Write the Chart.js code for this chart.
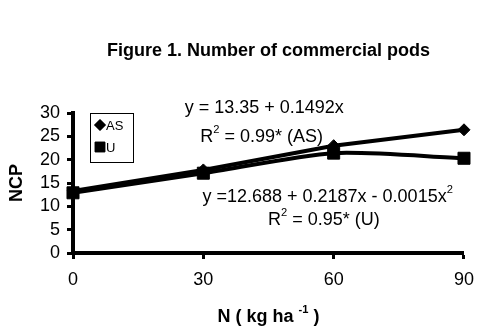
<!DOCTYPE html>
<html>
<head>
<meta charset="utf-8">
<script src="https://cdn.jsdelivr.net/npm/chart.js@4/dist/chart.umd.min.js"></script>
<style>
  html, body { margin: 0; padding: 0; background: #fff; }
  #wrap { width: 484px; height: 326px; }
</style>
</head>
<body>
<div id="wrap"><canvas id="c"></canvas></div>
<script>
// values
const nRates = [0, 30, 60, 90];
const ncpAS = [13.3, 17.8, 23.0, 26.4];
const ncpU = [12.9, 17.1, 21.4, 20.3];
const seriesNames = ['AS', 'U'];
const chartTitle = 'Figure 1. Number of commercial pods';
const yTitle = 'NCP';

// text with superscripts: [text, isSuper]
const eqAS = [['y = 13.35 + 0.1492x', 0]];
const r2AS = [['R', 0], ['2', 1], [' = 0.99* (AS)', 0]];
const eqU = [['y =12.688 + 0.2187x - 0.0015x', 0], ['2', 1]];
const r2U = [['R', 0], ['2', 1], [' = 0.95* (U)', 0]];
const xTitle = [['N ( kg ha ', 0], ['-1', 1], [' )', 0]];

const FONT = "'Liberation Sans', Arial, sans-serif";

function drawRich(ctx, parts, x, y, size, bold, align) {
  const w = parts.reduce((s, [t, sup]) => {
    ctx.font = (bold ? 'bold ' : '') + (sup ? size * 0.62 : size) + 'px ' + FONT;
    return s + ctx.measureText(t).width;
  }, 0);
  let cx = align === 'center' ? x - w / 2 : x;
  ctx.textBaseline = 'middle';
  ctx.textAlign = 'left';
  parts.forEach(([t, sup]) => {
    ctx.font = (bold ? 'bold ' : '') + (sup ? size * 0.62 : size) + 'px ' + FONT;
    ctx.fillText(t, cx, sup ? y - size * 0.38 : y);
    cx += ctx.measureText(t).width;
  });
}

const notes = {
  id: 'notes',
  afterDatasetsDraw(chart) {
    const { ctx, scales: { x, y } } = chart;
    ctx.save();
    ctx.fillStyle = '#000';
    drawRich(ctx, eqAS, x.getPixelForValue(25.7), y.getPixelForValue(31.1), 18, false);
    drawRich(ctx, r2AS, x.getPixelForValue(29.3), y.getPixelForValue(24.9), 18, false);
    drawRich(ctx, eqU, x.getPixelForValue(29.8), y.getPixelForValue(12.0), 18, false);
    drawRich(ctx, r2U, x.getPixelForValue(44.9), y.getPixelForValue(7.1), 18, false);
    drawRich(ctx, xTitle, (chart.chartArea.left + chart.chartArea.right) / 2, 317, 18, true, 'center');

    // legend box
    ctx.lineWidth = 1;
    ctx.strokeStyle = '#000';
    ctx.strokeRect(90.5, 113.5, 43, 49);
    ctx.font = '13px ' + FONT;
    ctx.textBaseline = 'middle';
    chart.data.datasets.forEach((ds, i) => {
      const ly = 125 + i * 22;
      Chart.helpers.drawPoint(ctx, {
        pointStyle: ds.pointStyle, radius: i === 0 ? 5.5 : 7, rotation: 0, borderWidth: 1
      }, 100, ly);
      ctx.fillStyle = '#000';
      ctx.fill();
      ctx.fillText(seriesNames[i], 106, ly + 1);
    });
    ctx.restore();
  }
};

const tickFont = { family: FONT, size: 18 };

new Chart(document.getElementById('c'), {
  type: 'line',
  data: {
    labels: nRates,
    datasets: [
      {
        label: seriesNames[0],
        data: nRates.map((n, i) => ({ x: n, y: ncpAS[i] })),
        borderColor: '#000', backgroundColor: '#000', borderWidth: 4,
        pointStyle: 'rectRot', pointRadius: 6, pointBorderWidth: 1,
        tension: 0, clip: false
      },
      {
        label: seriesNames[1],
        data: nRates.map((n, i) => ({ x: n, y: ncpU[i] })),
        borderColor: '#000', backgroundColor: '#000', borderWidth: 4,
        pointStyle: 'rect', pointRadius: 8.5, pointBorderWidth: 1,
        tension: 0.25, clip: false
      }
    ]
  },
  options: {
    responsive: true,
    maintainAspectRatio: false,
    animation: false,
    layout: { padding: { left: 0, right: 12, top: 0, bottom: 0 } },
    plugins: {
      legend: { display: false },
      tooltip: { enabled: false },
      title: {
        display: true, text: chartTitle, fullSize: false, color: '#000',
        font: { family: FONT, size: 18, weight: 'bold', lineHeight: 1.2 },
        padding: { top: 40, bottom: 51.4 }
      }
    },
    scales: {
      x: {
        type: 'linear', min: 0, max: 90,
        afterFit: s => { s.height = 73; },
        ticks: { stepSize: 30, autoSkip: false, color: '#000', font: tickFont, padding: 10 },
        grid: { drawOnChartArea: false, drawTicks: true, tickLength: 6, tickWidth: 3, tickColor: '#000' },
        border: { display: true, color: '#000', width: 4 }
      },
      y: {
        min: 0, max: 30,
        afterFit: s => { s.width = 73; },
        ticks: { stepSize: 5, autoSkip: false, color: '#000', font: tickFont, padding: 7 },
        grid: { drawOnChartArea: false, drawTicks: true, tickLength: 6, tickWidth: 3, tickColor: '#000' },
        border: { display: true, color: '#000', width: 4 },
        title: {
          display: true, text: yTitle, color: '#000',
          font: { family: FONT, size: 18, weight: 'bold', lineHeight: 1.2 },
          padding: { top: 6 }
        }
      }
    }
  },
  plugins: [notes]
});
</script>
</body>
</html>
